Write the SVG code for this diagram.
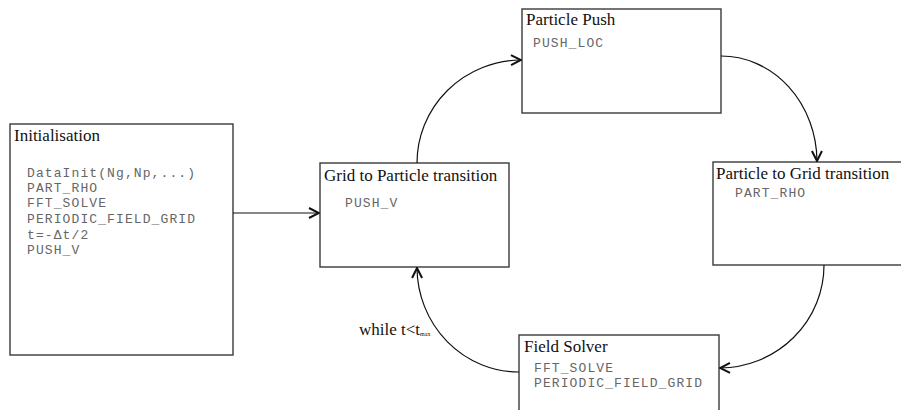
<svg xmlns="http://www.w3.org/2000/svg" width="901" height="410" viewBox="0 0 901 410">
<style>
.box{fill:#fff;stroke:#3a3a3a;stroke-width:1.4}
.title{font-family:"Liberation Serif",serif;font-size:17px;fill:#111}
.code{font-family:"Liberation Mono",monospace;font-size:13px;letter-spacing:1.1px;fill:#666}
.conn{fill:none;stroke:#111;stroke-width:1.2}
.lbl{font-family:"Liberation Serif",serif;font-size:17px;fill:#111}
</style>
<defs>
<marker id="arr" viewBox="0 0 12 12" refX="11" refY="6" markerWidth="12" markerHeight="12" markerUnits="userSpaceOnUse" orient="auto">
<path d="M1,1 L11,6 L1,11" fill="none" stroke="#111" stroke-width="2"/>
</marker>
</defs>
<g id="init">
<rect class="box" x="10" y="124" width="223" height="231"/>
<text class="title" x="14" y="141">Initialisation</text>
<text class="code" x="27" y="177">DataInit(Ng,Np,...)</text>
<text class="code" x="27" y="192">PART_RHO</text>
<text class="code" x="27" y="207">FFT_SOLVE</text>
<text class="code" x="27" y="223">PERIODIC_FIELD_GRID</text>
<text class="code" x="27" y="239">t=-Δt/2</text>
<text class="code" x="27" y="254">PUSH_V</text>
</g>
<g id="g2p">
<rect class="box" x="320" y="163" width="189" height="104"/>
<text class="title" x="324" y="181">Grid to Particle transition</text>
<text class="code" x="345" y="207">PUSH_V</text>
</g>
<g id="push">
<rect class="box" x="522" y="9" width="199" height="104"/>
<text class="title" x="526" y="25">Particle Push</text>
<text class="code" x="533" y="47">PUSH_LOC</text>
</g>
<g id="p2g">
<rect class="box" x="713" y="162" width="200" height="103"/>
<text class="title" x="716" y="179">Particle to Grid transition</text>
<text class="code" x="735" y="197">PART_RHO</text>
</g>
<g id="field">
<rect class="box" x="519" y="335" width="200" height="90"/>
<text class="title" x="524" y="352">Field Solver</text>
<text class="code" x="534" y="372">FFT_SOLVE</text>
<text class="code" x="534" y="387">PERIODIC_FIELD_GRID</text>
</g>
<g id="connectors">
<path class="conn" d="M233,213 L319,213" marker-end="url(#arr)"/>
<path class="conn" d="M417,163 A105,103 0 0 1 521,60" marker-end="url(#arr)"/>
<path class="conn" d="M721,56 A96,106 0 0 1 817,161" marker-end="url(#arr)"/>
<path class="conn" d="M824,265 A105,103 0 0 1 720,368" marker-end="url(#arr)"/>
<path class="conn" d="M519,372 A102,105 0 0 1 417,268" marker-end="url(#arr)"/>
<text class="lbl" x="359" y="335">while t&lt;t<tspan font-size="6" dy="1">max</tspan></text>
</g>
</svg>
